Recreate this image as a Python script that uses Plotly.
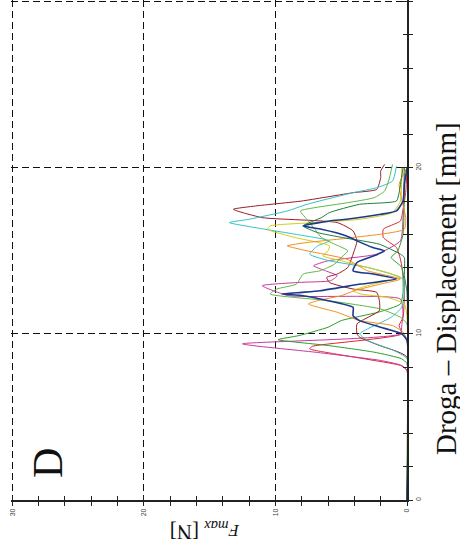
import plotly.graph_objects as go

# ---- data: displacement [mm] and force [N] per specimen curve ----
D_RED = [0, 7.8, 8.1, 8.4, 8.8, 9.1, 9.25, 10.0, 10.5, 11.0, 13.0, 14.5, 15.2, 15.8, 16.3, 16.8, 17.5, 18.5, 20.0]
F_RED = [0, 0, 0.5, 2.5, 5.5, 7.4, 7.2, 0.4, 0.6, 0.3, 0.2, 0.5, 0.8, 1.8, 1.8, 0.5, 0.3, 0.1, 0]

D_MAG = [0, 7.8, 8.1, 8.4, 8.9, 9.4, 10.0, 10.5, 11.2, 12.1, 12.3, 12.9, 13.1, 13.2, 13.5, 13.8, 14.1, 14.4, 14.8, 15.6, 17.0, 20.0]
F_MAG = [0, 0, 0.4, 2.0, 7.0, 12.5, 0.5, 0.4, 0.3, 0.5, 9.0, 11.0, 8.2, 5.8, 5.3, 6.2, 7.1, 6.0, 2.3, 0.5, 0.3, 0.2]

D_GRN = [0, 8.2, 8.5, 8.9, 9.3, 9.65, 9.9, 10.4, 10.8, 11.3, 11.8, 12.5, 14.0, 14.6, 15.0, 16.0, 20.0]
F_GRN = [0, 0, 0.4, 2.5, 6.0, 9.8, 8.2, 6.0, 5.0, 2.2, 0.5, 0.3, 0.4, 1.2, 0.7, 0.3, 0.2]

D_MAR = [0, 8.6, 9.3, 9.8, 10.0, 10.6, 11.4, 12.0, 12.5, 12.7, 13.1, 13.4, 13.6, 14.0, 14.8, 15.6, 16.2, 16.7, 17.0, 17.5, 17.7, 18.0, 18.5, 18.7, 19.4, 19.8, 20.2]
F_MAR = [0, 0, 2.1, 3.6, 3.8, 3.8, 2.1, 2.1, 2.3, 4.1, 5.9, 6.1, 5.3, 4.5, 4.1, 3.8, 4.1, 5.3, 11.0, 13.2, 11.5, 8.0, 4.1, 2.3, 2.0, 2.0, 1.7]

D_CYA = [0, 8.5, 9.0, 9.6, 10.0, 10.3, 11.0, 11.6, 12.5, 13.3, 14.0, 14.4, 14.8, 15.3, 15.6, 16.0, 16.3, 16.7, 16.9, 17.4, 17.8, 18.5, 18.8, 19.2, 20.1]
F_CYA = [0, 0, 1.0, 3.0, 3.6, 3.0, 1.2, 0.4, 0.2, 0.3, 3.0, 5.9, 7.4, 6.8, 5.9, 8.5, 10.8, 13.5, 12.0, 9.1, 7.6, 4.1, 2.3, 1.1, 0.8]

D_YEL = [0, 11.0, 11.8, 12.2, 12.4, 12.6, 12.9, 13.2, 13.4, 13.7, 14.0, 14.4, 14.7, 15.0, 15.3, 15.8, 16.3, 16.5, 16.7, 16.9, 17.3, 18.0, 20.0]
F_YEL = [0, 0, 0.2, 1.5, 3.5, 4.1, 3.0, 1.5, 0.5, 1.5, 3.0, 5.0, 6.4, 6.0, 5.9, 8.5, 10.6, 10.4, 7.0, 3.6, 1.1, 0.5, 0.4]

D_ORA = [0, 9.6, 10.1, 10.5, 10.8, 11.3, 11.8, 12.0, 12.3, 12.6, 13.0, 13.3, 13.8, 14.5, 15.0, 15.3, 15.5, 15.8, 16.3, 17.0, 19.0, 20.0]
F_ORA = [0, 0, 0.3, 1.1, 3.6, 5.3, 7.5, 6.8, 5.0, 4.0, 2.0, 0.5, 3.0, 4.6, 7.6, 9.1, 7.6, 4.1, 0.2, 0.1, 0.6, 0]

D_NAV = [0, 9.6, 10.0, 10.4, 10.8, 11.1, 11.6, 12.0, 12.3, 12.4, 12.5, 12.6, 13.0, 13.3, 13.6, 13.8, 14.3, 14.7, 15.0, 15.2, 15.6, 15.9, 16.3, 16.5, 16.8, 16.9, 17.2, 17.4, 18.0, 19.0, 20.0]
F_NAV = [0, 0, 0.4, 2.0, 3.6, 4.1, 4.1, 6.0, 7.9, 9.5, 8.0, 6.6, 3.5, 0.8, 2.5, 4.1, 3.8, 2.5, 1.7, 2.6, 3.8, 4.6, 6.5, 7.9, 5.9, 4.6, 2.0, 0.8, 0.3, 0.2, 0]

D_LIM = [0, 10.6, 11.0, 11.5, 12.0, 12.4, 12.7, 13.0, 13.6, 13.8, 14.2, 14.6, 15.0, 15.4, 15.8, 16.3, 16.8, 17.4, 17.6, 17.9, 18.2, 18.6, 19.2, 20.2]
F_LIM = [0, 0, 0.5, 2.0, 6.0, 10.4, 9.9, 8.4, 7.9, 6.6, 5.5, 5.0, 4.5, 5.5, 6.5, 7.0, 7.5, 8.1, 7.0, 4.5, 2.5, 1.7, 1.4, 1.1]

D_DGR = [0, 12.5, 13.5, 14.6, 14.8, 15.4, 15.8, 16.1, 16.5, 17.0, 17.3, 17.8, 18.0, 18.5, 19.5, 20.0]
F_DGR = [0, 0, 0.2, 0.2, 0.5, 2.1, 4.9, 6.8, 7.9, 6.5, 5.9, 3.6, 0.8, 0.6, 0.4, 0.3]

SERIES = [
    ("red", D_RED, F_RED, "#e2262e", 1.0),
    ("magenta", D_MAG, F_MAG, "#c63a9e", 1.0),
    ("green", D_GRN, F_GRN, "#2a9e2a", 1.0),
    ("maroon", D_MAR, F_MAR, "#9a1c22", 1.0),
    ("cyan", D_CYA, F_CYA, "#34c2c6", 1.0),
    ("yellow", D_YEL, F_YEL, "#d6cc12", 1.0),
    ("orange", D_ORA, F_ORA, "#f0901c", 1.0),
    ("lime", D_LIM, F_LIM, "#5db845", 1.0),
    ("darkgreen", D_DGR, F_DGR, "#1b7e3c", 1.0),
    ("navy", D_NAV, F_NAV, "#1c3a8c", 1.6),
]

FORCE_TICKS = [0, 10, 20, 30]
DISP_TICKS = [0, 10, 20, 30]
MINOR_TICKS = list(range(0, 31, 2))
FORCE_RANGE = [30.1, 0]
DISP_RANGE = [0, 30.1]

fig = go.Figure()
for name, d, f, col, w in SERIES:
    fig.add_trace(go.Scatter(x=f, y=d, mode="lines", name=name,
                             line=dict(color=col, width=w, shape="spline", smoothing=0.5),
                             showlegend=False, hoverinfo="skip"))
# invisible trace to activate overlay axes (inside ticks)
fig.add_trace(go.Scatter(x=[None], y=[None], xaxis="x2", yaxis="y2",
                         showlegend=False, hoverinfo="skip"))

grid_dash = "7px,4px"
tickfont = dict(family="Liberation Sans", size=7, color="#444")

fig.update_layout(
    width=460, height=554,
    margin=dict(l=11, r=53, t=0, b=54, autoexpand=False),
    paper_bgcolor="white", plot_bgcolor="white",
    showlegend=False,
    xaxis=dict(range=FORCE_RANGE, tickvals=FORCE_TICKS, ticks="outside", ticklen=4,
               tickcolor="#222", tickwidth=1, automargin=False,
               minor=dict(tickvals=MINOR_TICKS, ticks="outside", ticklen=4,
                          tickcolor="#222", showgrid=False),
               showgrid=True, gridcolor="#111", gridwidth=1, griddash=grid_dash,
               showline=True, linecolor="#222", linewidth=1.5,
               zeroline=False, tickangle=-90, tickfont=tickfont),
    yaxis=dict(range=DISP_RANGE, side="right", tickvals=DISP_TICKS, ticks="outside",
               ticklen=4, tickcolor="#222", tickwidth=1, automargin=False,
               minor=dict(tickvals=MINOR_TICKS, ticks="outside", ticklen=4,
                          tickcolor="#222", showgrid=False),
               showgrid=True, gridcolor="#111", gridwidth=1, griddash=grid_dash,
               showline=True, linecolor="#222", linewidth=1.5,
               zeroline=False, tickangle=-90, tickfont=tickfont),
    xaxis2=dict(range=FORCE_RANGE, overlaying="x", anchor="y", side="bottom",
                tickvals=MINOR_TICKS, ticks="inside", ticklen=4, tickcolor="#222",
                automargin=False,
                showticklabels=False, showgrid=False, zeroline=False, showline=False),
    yaxis2=dict(range=DISP_RANGE, overlaying="y", anchor="x", side="right",
                tickvals=MINOR_TICKS, ticks="inside", ticklen=4, tickcolor="#222",
                automargin=False,
                showticklabels=False, showgrid=False, zeroline=False, showline=False),
)

serif = "Liberation Serif"
fig.add_annotation(text="Droga – Displacement [mm]", xref="paper", yref="paper",
                   x=(446 - 11) / 396, y=(500 - 288) / 500, textangle=-90,
                   showarrow=False, xanchor="center", yanchor="middle",
                   font=dict(family=serif, size=29, color="#111"))
fig.add_annotation(text="<i><span style='font-size:17px'>F</span></i><sub><i>max</i></sub> [N]",
                   xref="paper", yref="paper",
                   x=(205 - 11) / 396, y=(500 - 531) / 500, textangle=180,
                   showarrow=False, xanchor="center", yanchor="middle",
                   font=dict(family=serif, size=21, color="#111"))
fig.add_annotation(text="D", xref="paper", yref="paper",
                   x=(48 - 11) / 396, y=(500 - 463) / 500, textangle=-90,
                   showarrow=False, xanchor="center", yanchor="middle",
                   font=dict(family=serif, size=42, color="#111"))

fig.write_html("out.html", config={"displayModeBar": False},
               post_script="document.body.style.margin='0px';document.body.style.overflow='hidden';")
